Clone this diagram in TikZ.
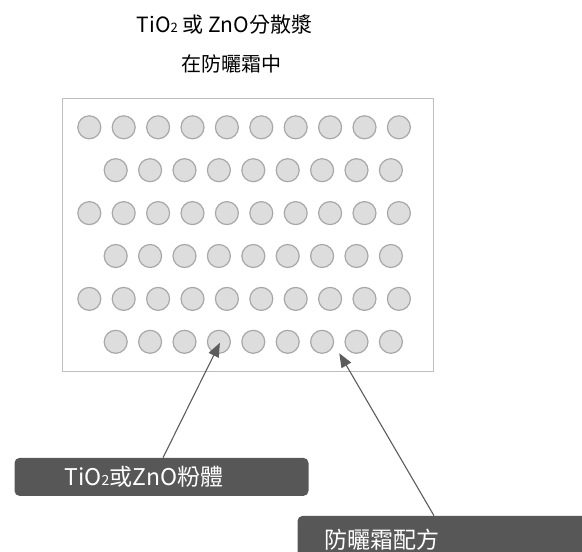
\documentclass[tikz,border=0pt]{standalone}
\usepackage{fontspec}
\setmainfont{Noto Sans CJK TC}
\usetikzlibrary{arrows.meta}
\definecolor{dotfill}{HTML}{DCDDDC}
\definecolor{dotedge}{HTML}{A8A8A8}
\definecolor{boxfill}{HTML}{575757}
\definecolor{frameedge}{HTML}{BEBEBE}
\definecolor{arrowcol}{HTML}{5C5C5C}
\begin{document}
\begin{tikzpicture}[x=1pt,y=-1pt,
 dot/.style={circle, fill=dotfill, draw=dotedge, line width=1.2pt, minimum size=23pt, inner sep=0pt},
 labelbox/.style={fill=boxfill, rounded corners=5pt, text=white, anchor=north west, align=left, inner ysep=0pt, font=\fontsize{23}{27}\selectfont},
 pointer/.style={draw=arrowcol, line width=1.1pt, -{Triangle[length=14pt,width=11pt]}},
 title/.style={font=\fontsize{20}{24}\selectfont, text=black}]
\useasboundingbox (0,0) rectangle (582,552);
\clip (0,0) rectangle (582,552);
\node[title, font=\fontsize{21}{24}\selectfont] (t1) at (224.5,25) {TiO{\fontsize{13}{13}\selectfont 2} 或 ZnO分散漿};
\node[title] (t2) at (231.7,64) {在防曬霜中};
\node[draw=frameedge, line width=1pt, minimum width=370.7pt, minimum height=272.4pt, anchor=north west, inner sep=0pt] (frame) at (62,98.3) {};
\foreach \r in {1,3,5} \foreach \c in {1,...,10}
  \node[dot] (c-\r-\c) at ({89.3+(\c-1)*34.4},{127.3+(\r-1)*42.9}) {};
\foreach \r in {2,4,6} \foreach \c in {1,...,9}
  \node[dot] (c-\r-\c) at ({115.7+(\c-1)*34.4},{127.3+(\r-1)*42.9}) {};
\node[labelbox, minimum height=38pt, text width=194pt, inner xsep=50pt] (b1) at (14.3,457.7) {TiO{\fontsize{14}{14}\selectfont 2}或ZnO粉體};
\node[labelbox, minimum height=48pt, text width=249pt, inner xsep=27pt] (b2) at (297.3,515.7) {防曬霜配方};
\coordinate (gap) at (339.3,353.3);
\draw[pointer] ([xshift=148.7pt]b1.north west) -- ([shift={(1pt,-1pt)}]c-6-4.center);
\draw[pointer] ([xshift=136.7pt]b2.north west) -- (gap);
\end{tikzpicture}
\end{document}
